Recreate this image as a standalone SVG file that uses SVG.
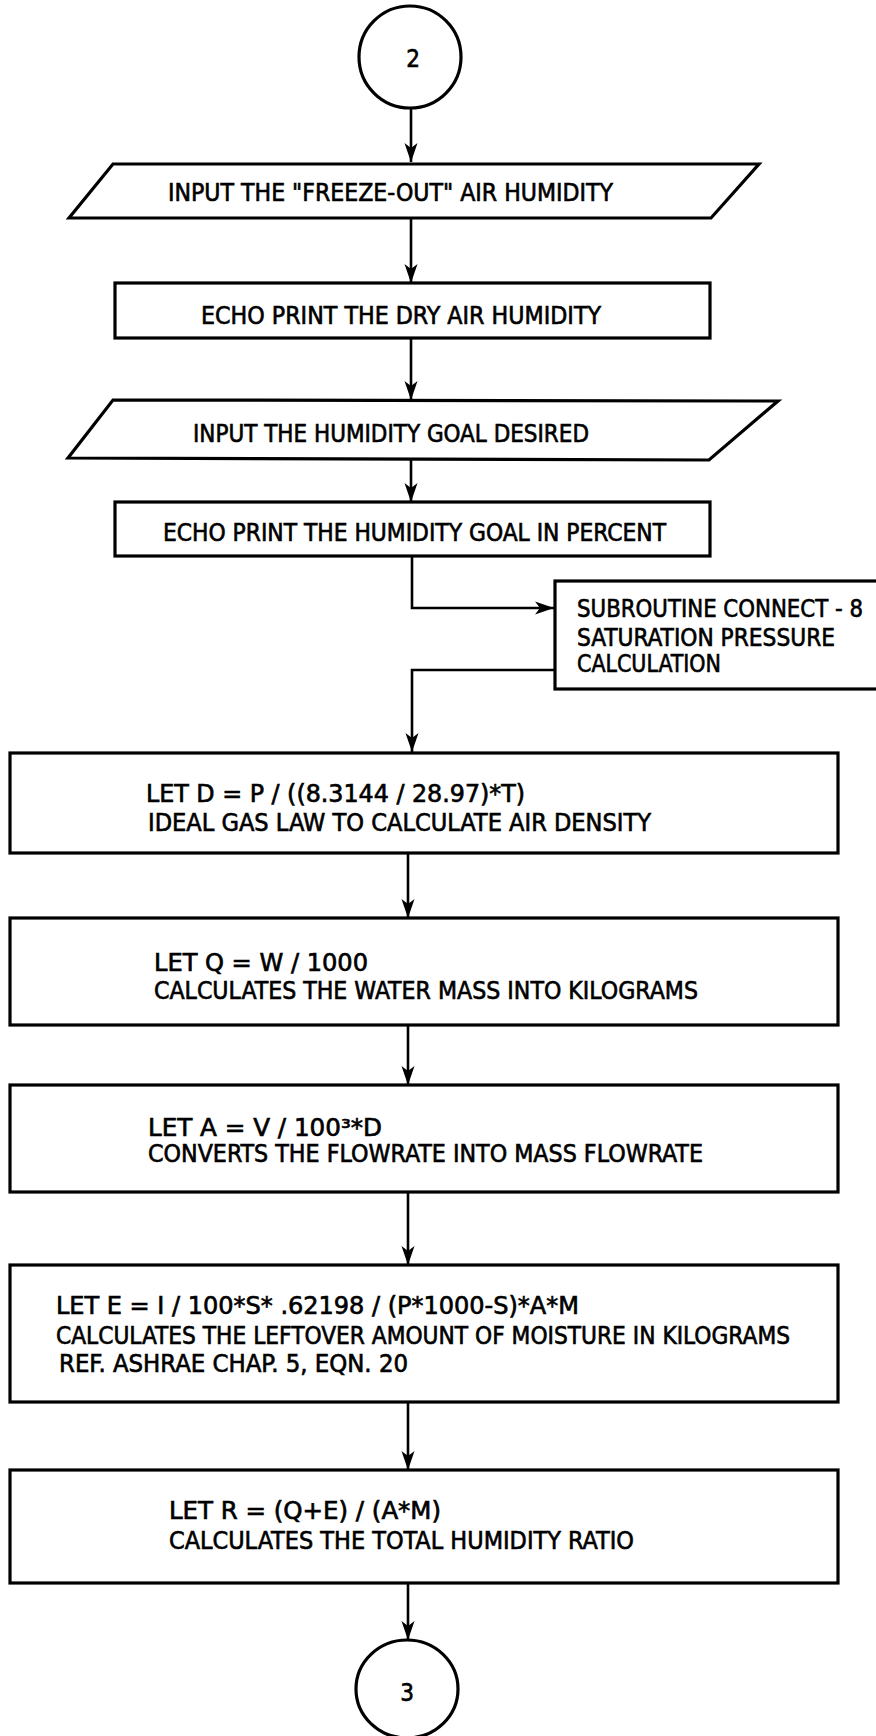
<svg xmlns="http://www.w3.org/2000/svg" width="876" height="1736" viewBox="0 0 876 1736">
<defs>
<style>
.s{fill:#fff;stroke:#000;stroke-width:3.2;stroke-linejoin:miter}
.c{fill:none;stroke:#000;stroke-width:2.6}
text{font-family:"DejaVu Sans Condensed","Liberation Sans Narrow","Liberation Sans",sans-serif;font-size:24px;fill:#000;stroke:#000;stroke-width:0.6}
</style>
<marker id="ah" markerUnits="userSpaceOnUse" markerWidth="20" markerHeight="16" viewBox="0 0 20 16" refX="19" refY="8" orient="auto">
<path d="M0,1.5 L19,8 L0,14.5 L5,8 Z" fill="#000"/>
</marker>
</defs>
<rect width="876" height="1736" fill="#fff"/>
<g id="connectors">
<line class="c" x1="411" y1="107" x2="411" y2="162" marker-end="url(#ah)"/>
<line class="c" x1="411" y1="218" x2="411" y2="283" marker-end="url(#ah)"/>
<line class="c" x1="411" y1="338" x2="411" y2="400" marker-end="url(#ah)"/>
<line class="c" x1="411" y1="459" x2="411" y2="502" marker-end="url(#ah)"/>
<polyline class="c" points="412,556 412,608 554,608" marker-end="url(#ah)"/>
<polyline class="c" points="555,670 412,670 412,752" marker-end="url(#ah)"/>
<line class="c" x1="408" y1="853" x2="408" y2="918" marker-end="url(#ah)"/>
<line class="c" x1="408" y1="1025" x2="408" y2="1085" marker-end="url(#ah)"/>
<line class="c" x1="408" y1="1192" x2="408" y2="1265" marker-end="url(#ah)"/>
<line class="c" x1="408" y1="1402" x2="408" y2="1470" marker-end="url(#ah)"/>
<line class="c" x1="408" y1="1583" x2="408" y2="1640" marker-end="url(#ah)"/>
</g>
<g id="start">
<circle class="s" cx="410" cy="57" r="51"/>
<text x="413" y="67" text-anchor="middle">2</text>
</g>
<g id="input-freeze">
<polygon class="s" points="113,164 759,164 711,218 69,218"/>
<text x="168" y="201" textLength="445" lengthAdjust="spacingAndGlyphs">INPUT THE "FREEZE-OUT" AIR HUMIDITY</text>
</g>
<g id="echo-dry">
<rect class="s" x="115" y="283" width="595" height="55"/>
<text x="201" y="324" textLength="400" lengthAdjust="spacingAndGlyphs">ECHO PRINT THE DRY AIR HUMIDITY</text>
</g>
<g id="input-goal">
<polygon class="s" points="113,400 778,401 709,460 68,458"/>
<text x="193" y="442" textLength="396" lengthAdjust="spacingAndGlyphs">INPUT THE HUMIDITY GOAL DESIRED</text>
</g>
<g id="echo-goal">
<rect class="s" x="115" y="502" width="595" height="54"/>
<text x="163" y="541" textLength="503" lengthAdjust="spacingAndGlyphs">ECHO PRINT THE HUMIDITY GOAL IN PERCENT</text>
</g>
<g id="subroutine">
<rect class="s" x="555" y="581" width="330" height="108"/>
<text x="577" y="617" textLength="286" lengthAdjust="spacingAndGlyphs">SUBROUTINE CONNECT - 8</text>
<text x="577" y="646" textLength="258" lengthAdjust="spacingAndGlyphs">SATURATION PRESSURE</text>
<text x="577" y="672" textLength="144" lengthAdjust="spacingAndGlyphs">CALCULATION</text>
</g>
<g id="density">
<rect class="s" x="10" y="753" width="828" height="100"/>
<text x="146" y="802" textLength="379" lengthAdjust="spacingAndGlyphs">LET D = P / ((8.3144 / 28.97)*T)</text>
<text x="148" y="831" textLength="503" lengthAdjust="spacingAndGlyphs">IDEAL GAS LAW TO CALCULATE AIR DENSITY</text>
</g>
<g id="water-mass">
<rect class="s" x="10" y="918" width="828" height="107"/>
<text x="154" y="971" textLength="214" lengthAdjust="spacingAndGlyphs">LET Q = W / 1000</text>
<text x="154" y="999" textLength="544" lengthAdjust="spacingAndGlyphs">CALCULATES THE WATER MASS INTO KILOGRAMS</text>
</g>
<g id="mass-flow">
<rect class="s" x="10" y="1085" width="828" height="107"/>
<text x="148" y="1136" textLength="234" lengthAdjust="spacingAndGlyphs">LET A = V / 100³*D</text>
<text x="148" y="1162" textLength="555" lengthAdjust="spacingAndGlyphs">CONVERTS THE FLOWRATE INTO MASS FLOWRATE</text>
</g>
<g id="moisture">
<rect class="s" x="10" y="1265" width="828" height="137"/>
<text x="56" y="1314" textLength="523" lengthAdjust="spacingAndGlyphs">LET E = I / 100*S* .62198 / (P*1000-S)*A*M</text>
<text x="56" y="1344" textLength="734" lengthAdjust="spacingAndGlyphs">CALCULATES THE LEFTOVER AMOUNT OF MOISTURE IN KILOGRAMS</text>
<text x="59" y="1372" textLength="349" lengthAdjust="spacingAndGlyphs">REF. ASHRAE CHAP. 5, EQN. 20</text>
</g>
<g id="ratio">
<rect class="s" x="10" y="1470" width="828" height="113"/>
<text x="169" y="1519" textLength="272" lengthAdjust="spacingAndGlyphs">LET R = (Q+E) / (A*M)</text>
<text x="169" y="1549" textLength="465" lengthAdjust="spacingAndGlyphs">CALCULATES THE TOTAL HUMIDITY RATIO</text>
</g>
<g id="end">
<ellipse class="s" cx="407" cy="1689" rx="51" ry="49"/>
<text x="407" y="1701" text-anchor="middle">3</text>
</g>
</svg>
